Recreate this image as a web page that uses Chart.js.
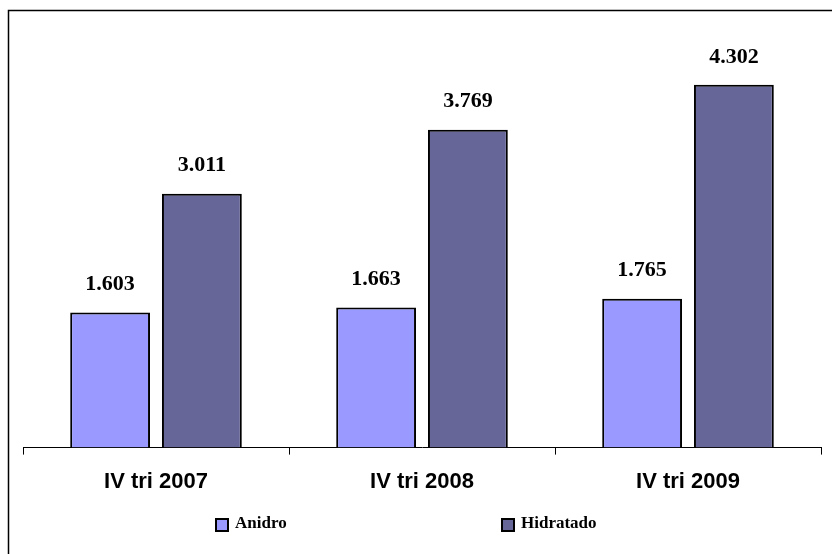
<!DOCTYPE html>
<html>
<head>
<meta charset="utf-8">
<script src="https://cdn.jsdelivr.net/npm/chart.js@4"></script>
<style>
  html, body { margin: 0; padding: 0; background: #fff; }
  #wrap { position: relative; width: 832px; height: 554px; }
</style>
</head>
<body>
<div id="wrap"><canvas id="ethanolChart"></canvas></div>
<script>
const categories = ['IV tri 2007', 'IV tri 2008', 'IV tri 2009'];
const anidro = [1.603, 1.663, 1.765];
const hidratado = [3.011, 3.769, 4.302];
const seriesNames = ['Anidro', 'Hidratado'];
const seriesColors = ['#9999FF', '#666699'];

// numbers use a dot as thousands separator, three decimals
function fmt(v) {
    return v.toFixed(3);
}

// outer frame (only left and top edges are visible in the crop)
const framePlugin = {
    id: 'frame',
    afterDraw(chart) {
        const ctx = chart.ctx;
        ctx.save();
        ctx.strokeStyle = '#000';
        ctx.lineWidth = 1.5;
        ctx.beginPath();
        ctx.moveTo(8.5, chart.height);
        ctx.lineTo(8.5, 10.5);
        ctx.lineTo(chart.width, 10.5);
        ctx.stroke();
        ctx.restore();
    }
};

const valueLabels = {
    id: 'valueLabels',
    afterDatasetsDraw(chart) {
        const ctx = chart.ctx;
        ctx.save();
        ctx.font = 'bold 22px "Liberation Serif", "Times New Roman", serif';
        ctx.fillStyle = '#000';
        ctx.textAlign = 'center';
        ctx.textBaseline = 'middle';
        chart.data.datasets.forEach((ds, di) => {
            chart.getDatasetMeta(di).data.forEach((bar, i) => {
                ctx.fillText(fmt(ds.data[i]), bar.x, bar.y - 28);
            });
        });
        ctx.restore();
    }
};

const customLegend = {
    id: 'customLegend',
    afterDraw(chart) {
        const ctx = chart.ctx;
        const xs = [216, 502];
        const y = 524;
        ctx.save();
        ctx.font = 'bold 17px "Liberation Serif", "Times New Roman", serif';
        ctx.textBaseline = 'middle';
        ctx.textAlign = 'left';
        chart.data.datasets.forEach((ds, i) => {
            ctx.fillStyle = ds.backgroundColor;
            ctx.fillRect(xs[i], y - 5, 12, 12);
            ctx.strokeStyle = '#000';
            ctx.lineWidth = 2;
            ctx.strokeRect(xs[i], y - 5, 12, 12);
            ctx.fillStyle = '#000';
            ctx.fillText(ds.label, xs[i] + 19, y);
        });
        ctx.restore();
    }
};

const chartData = {
    labels: categories,
    datasets: [{
        label: seriesNames[0],
        data: anidro,
        backgroundColor: seriesColors[0],
        borderColor: '#000',
        borderWidth: 2
    }, {
        label: seriesNames[1],
        data: hidratado,
        backgroundColor: seriesColors[1],
        borderColor: '#000',
        borderWidth: 2
    }]
};

const config = {
    type: 'bar',
    data: chartData,
    options: {
        responsive: true,
        maintainAspectRatio: false,
        animation: false,
        categoryPercentage: 0.69,
        barPercentage: 0.87,
        layout: {
            padding: { left: 23, right: 11, top: 26, bottom: 45 }
        },
        plugins: {
            legend: { display: false },
            tooltip: { enabled: false },
            title: { display: false }
        },
        scales: {
            y: {
                display: false,
                min: 0,
                max: 5
            },
            x: {
                border: { display: true, color: '#000', width: 1 },
                grid: {
                    offset: true,
                    drawOnChartArea: false,
                    drawTicks: true,
                    tickLength: 7,
                    color: '#000'
                },
                ticks: {
                    color: '#000',
                    padding: 14,
                    font: { family: '"Liberation Sans", Arial, sans-serif', size: 22, weight: 'bold' }
                }
            }
        }
    },
    plugins: [valueLabels, customLegend, framePlugin]
};

new Chart(document.getElementById('ethanolChart').getContext('2d'), config);
</script>
</body>
</html>
